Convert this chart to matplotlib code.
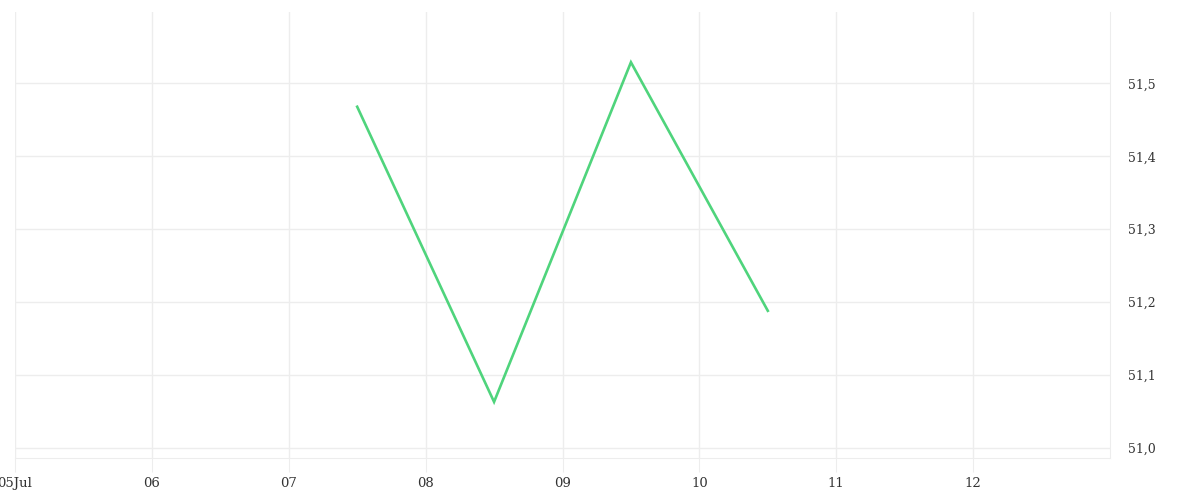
import matplotlib
matplotlib.use('Agg')
import matplotlib.pyplot as plt
import matplotlib.dates as mdates
from matplotlib.ticker import FuncFormatter, FixedLocator
from datetime import datetime, timedelta

# data
dates = [datetime(2024, 7, 7, 12), datetime(2024, 7, 8, 12),
         datetime(2024, 7, 9, 12), datetime(2024, 7, 10, 12)]
values = [51.468, 51.063, 51.529, 51.188]
y_ticks = [51.0, 51.1, 51.2, 51.3, 51.4, 51.5]

grid_col = '#ededed'
text_col = '#333333'

fig = plt.figure(figsize=(12, 5), dpi=100)
ax = fig.add_axes([15/1200, 1-458/500, (1110-15)/1200, (458-12)/500])

ax.plot(dates, values, color='#4fd47c', linewidth=1.9, solid_joinstyle='miter')

ax.set_xlim(datetime(2024, 7, 5), datetime(2024, 7, 13))
ax.set_ylim(50.986, 51.598)

day_ticks = [datetime(2024, 7, 5) + timedelta(days=i) for i in range(8)]
ax.xaxis.set_major_locator(FixedLocator(mdates.date2num(day_ticks)))

def fmt_x(x, pos):
    d = mdates.num2date(x)
    if pos == 0:
        return d.strftime('%d%b')
    return d.strftime('%d')

ax.xaxis.set_major_formatter(FuncFormatter(fmt_x))
ax.yaxis.set_major_locator(FixedLocator(y_ticks))
ax.yaxis.set_major_formatter(FuncFormatter(lambda v, p: f'{v:.1f}'.replace('.', ',')))
ax.yaxis.tick_right()

ax.grid(True, color=grid_col, linewidth=1)
ax.set_axisbelow(True)
for side in ['top', 'left']:
    ax.spines[side].set_visible(False)
ax.spines['bottom'].set_color(grid_col)
ax.spines['right'].set_color(grid_col)

ax.tick_params(axis='x', length=10, color=grid_col, labelcolor=text_col,
               labelsize=9.5, pad=4)
ax.tick_params(axis='y', length=0, labelcolor=text_col, labelsize=9, pad=13)
for lab in ax.get_xticklabels() + ax.get_yticklabels():
    lab.set_fontfamily('DejaVu Serif')

plt.savefig('out.png', dpi=100)
